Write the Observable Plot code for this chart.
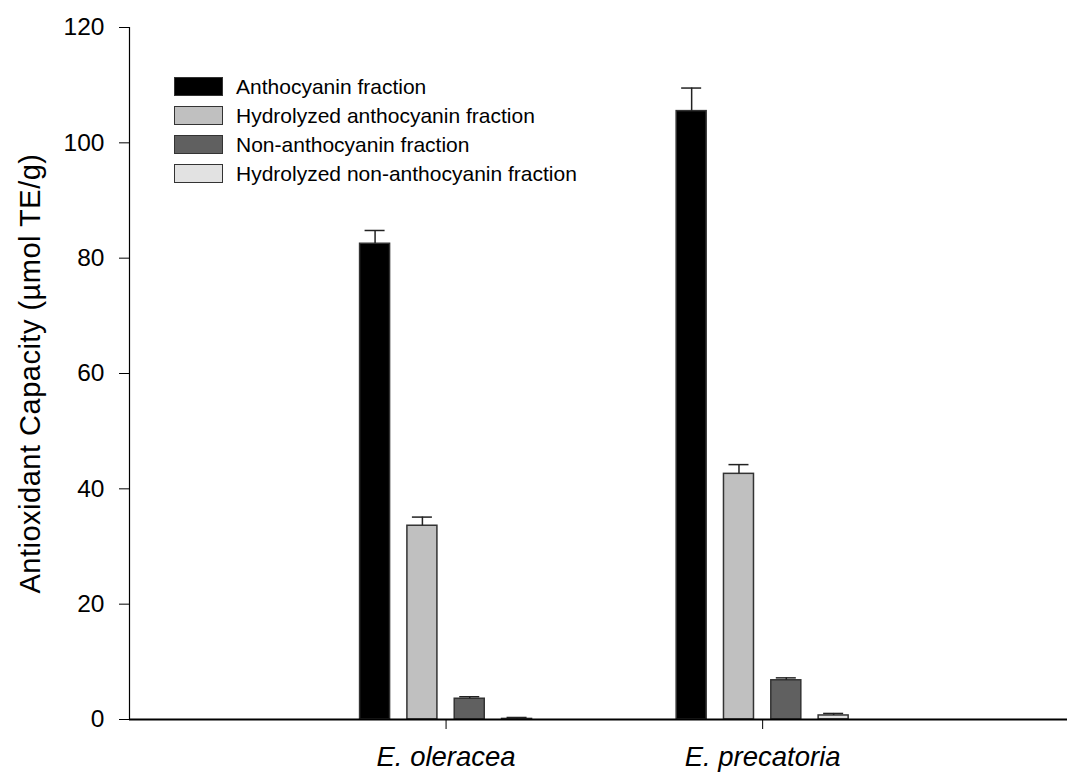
<!DOCTYPE html>
<html><head><meta charset="utf-8">
<script src="https://cdn.jsdelivr.net/npm/d3@7"></script>
<script src="https://cdn.jsdelivr.net/npm/@observablehq/plot@0.6"></script>
<style>
body{margin:0;background:#fff;}
#wrap{position:relative;width:1067px;height:776px;font-family:"Liberation Sans",Arial,sans-serif;}
#legend{position:absolute;left:174px;top:72px;}
.row{display:flex;align-items:center;height:29px;}
.sw{box-sizing:border-box;width:49px;height:19px;border:1.5px solid #333;margin-right:13px;}
.lab{font-size:21px;color:#000;white-space:nowrap;}
</style></head><body><div id="wrap"><div id="chart"></div><div id="legend"></div></div>
<script>
const categories = ["E. oleracea", "E. precatoria"];
const series = ["Anthocyanin fraction", "Hydrolyzed anthocyanin fraction", "Non-anthocyanin fraction", "Hydrolyzed non-anthocyanin fraction"];
const oleraceaValues = [82.5, 33.6, 3.6, 0.1];
const oleraceaErrors = [2.3, 1.5, 0.35, 0.25];
const precatoriaValues = [105.5, 42.6, 6.8, 0.7];
const precatoriaErrors = [4.0, 1.6, 0.42, 0.35];
const colors = ["#000000", "#c0c0c0", "#606060", "#e2e2e2"];
const yTicks = [0, 20, 40, 60, 80, 100, 120];
const yLabel = "Antioxidant Capacity (\u00b5mol TE/g)";

const valueSets = [oleraceaValues, precatoriaValues];
const errorSets = [oleraceaErrors, precatoriaErrors];
const slot = 0.1495, half = 0.0474, cap = 0.0316;
const rows = [];
categories.forEach((c, i) => series.forEach((s, j) => {
  const center = (i + 1) + (j - 1.5) * slot;
  rows.push({cat: c, series: s, value: valueSets[i][j], err: errorSets[i][j], center});
}));

const chart = Plot.plot({
  width: 1067, height: 776,
  marginLeft: 129, marginRight: 0, marginTop: 27, marginBottom: 57,
  x: {domain: [0, 2.963]},
  y: {domain: [0, 120]},
  color: {domain: series, range: colors},
  style: {fontFamily: "'Liberation Sans', Arial, sans-serif", fontSize: "24px", color: "#000", background: "#fff"},
  marks: [
    Plot.rect(rows, {x1: d => d.center - half, x2: d => d.center + half, y1: 0, y2: "value", fill: "series", stroke: "#333", strokeWidth: 1.5}),
    Plot.ruleX(rows, {x: "center", y1: "value", y2: d => d.value + d.err, stroke: "#222", strokeWidth: 1.5}),
    Plot.ruleY(rows, {y: d => d.value + d.err, x1: d => d.center - cap, x2: d => d.center + cap, stroke: "#222", strokeWidth: 1.5}),
    Plot.ruleX([0], {stroke: "#000", strokeWidth: 1.2}),
    Plot.ruleY([0], {stroke: "#000", strokeWidth: 2}),
    Plot.axisY({ticks: yTicks, tickSize: 10, tickPadding: 15, fontSize: 24.5, label: null}),
    Plot.axisX({ticks: [1, 2], tickFormat: i => categories[i - 1], tickSize: 10, tickPadding: 17, fontSize: 27.5, fontStyle: "italic", label: null}),
    Plot.text([yLabel], {text: d => d, frameAnchor: "left", rotate: -90, dx: -99, fontSize: 29, textAnchor: "middle", lineAnchor: "middle"})
  ]
});
chart.querySelectorAll("text").forEach(t => { if (t.textContent === yLabel) t.style.letterSpacing = "0.5px"; });
document.getElementById("chart").appendChild(chart);

const legend = document.getElementById("legend");
series.forEach((s, j) => {
  const row = document.createElement("div");
  row.className = "row";
  const sw = document.createElement("div");
  sw.className = "sw";
  sw.style.background = colors[j];
  const lab = document.createElement("span");
  lab.className = "lab";
  lab.textContent = s;
  row.appendChild(sw); row.appendChild(lab);
  legend.appendChild(row);
});
</script></body></html>
